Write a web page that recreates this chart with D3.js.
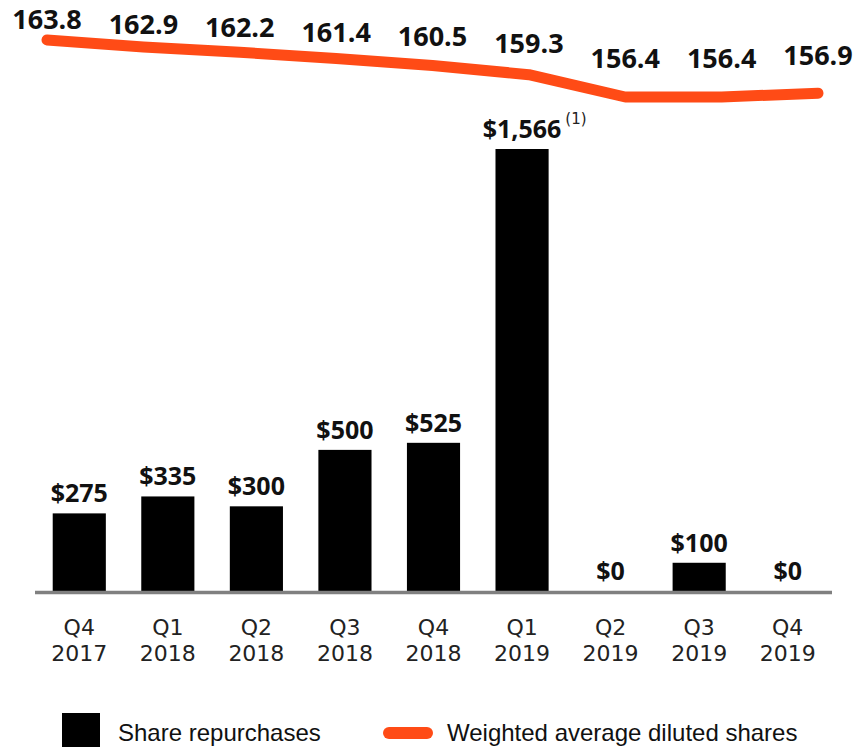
<!DOCTYPE html>
<html>
<head>
<meta charset="utf-8">
<script src="https://cdn.jsdelivr.net/npm/d3@7"></script>
<style>
  body { margin: 0; background: #fff; }
  .bar-label, .line-label { font-family: "Open Sans", "Noto Sans", sans-serif; font-weight: 700; fill: #111; }
  .tick-label { font-family: "DejaVu Sans", "Noto Sans", sans-serif; fill: #222; }
  .legend-label { font-family: "Liberation Sans", Arial, sans-serif; fill: #111; }
</style>
</head>
<body>
<div id="chart"></div>
<script>
// data
var quarters = ["Q4 2017", "Q1 2018", "Q2 2018", "Q3 2018", "Q4 2018", "Q1 2019", "Q2 2019", "Q3 2019", "Q4 2019"];
var repurchases = [275, 335, 300, 500, 525, 1566, 0, 100, 0];
var dilutedShares = [163.8, 162.9, 162.2, 161.4, 160.5, 159.3, 156.4, 156.4, 156.9];
var legendLabels = ["Share repurchases", "Weighted average diluted shares"];

const W = 857, H = 747
const BASE_Y = 591
const ORANGE = "#ff4b16"

var svg = d3.select("#chart").append("svg")
    .attr("width", W)
    .attr("height", H)

// scales
var x = d3.scaleBand()
    .domain(quarters)
    .range([35, 832])
    .paddingInner(0.4)
    .paddingOuter(0.2)

var y = d3.scaleLinear()
    .domain([0, 1566])
    .range([BASE_Y, 149])

// the shares line has its own horizontal spread
var xLine = d3.scalePoint()
    .domain(quarters)
    .range([47, 818])

var yLine = d3.scaleLinear()
    .domain([156.4, 163.8])
    .range([97, 40])

// labels of the line sit on a flatter scale than the line itself
var yLineLabel = d3.scaleLinear()
    .domain([156.4, 163.8])
    .range([68, 29])

// bars
svg.append("g").selectAll("rect")
    .data(quarters)
    .enter().append("rect")
    .attr("x", d => x(d))
    .attr("y", (d, i) => y(repurchases[i]))
    .attr("width", x.bandwidth())
    .attr("height", (d, i) => BASE_Y - y(repurchases[i]))
    .style("fill", "#000")

// bar labels
var barLabels = svg.append("g").selectAll("text")
    .data(quarters)
    .enter().append("text")
    .attr("class", "bar-label")
    .attr("x", d => x(d) + x.bandwidth() / 2)
    .attr("y", (d, i) => y(repurchases[i]) - 11)
    .attr("text-anchor", "middle")
    .style("font-size", "25px")
    .text((d, i) => "$" + d3.format(",")(repurchases[i]))

// footnote marker next to the big bar
var bigIdx = 5
var bigLabel = barLabels.filter((d, i) => i === bigIdx).node()
svg.append("text")
    .attr("class", "tick-label")
    .attr("x", x(quarters[bigIdx]) + x.bandwidth() / 2 + bigLabel.getComputedTextLength() / 2 + 4)
    .attr("y", y(repurchases[bigIdx]) - 25)
    .style("font-size", "15px")
    .text("(1)")

// baseline axis
var xAxis = d3.axisBottom(x).tickSize(0).tickFormat("")
var axisG = svg.append("g")
    .attr("transform", "translate(0," + (BASE_Y + 1.5) + ")")
    .call(xAxis)
axisG.select(".domain")
    .attr("d", "M35,0H832")
    .style("stroke", "#808080")
    .style("stroke-width", 3.5)

// two-line tick labels
var ticks = svg.append("g").selectAll("text")
    .data(quarters)
    .enter().append("text")
    .attr("class", "tick-label")
    .attr("text-anchor", "middle")
    .style("font-size", "22px")
ticks.each(function(d) {
    var parts = d.split(" ")
    var cx = x(d) + x.bandwidth() / 2
    d3.select(this).append("tspan").attr("x", cx).attr("y", 635).text(parts[0])
    d3.select(this).append("tspan").attr("x", cx).attr("y", 661).text(parts[1])
})

// shares line
var line = d3.line()
    .x((d, i) => xLine(quarters[i]))
    .y(d => yLine(d))

svg.append("path")
    .datum(dilutedShares)
    .attr("d", line)
    .style("fill", "none")
    .style("stroke", ORANGE)
    .style("stroke-width", 11)
    .style("stroke-linecap", "round")
    .style("stroke-linejoin", "round")

svg.append("g").selectAll("text")
    .data(dilutedShares)
    .enter().append("text")
    .attr("class", "line-label")
    .attr("x", (d, i) => xLine(quarters[i]))
    .attr("y", d => yLineLabel(d))
    .attr("text-anchor", "middle")
    .style("font-size", "27px")
    .text(d => d3.format(".1f")(d))

// legend
var legend = svg.append("g")
legend.append("rect")
    .attr("x", 62)
    .attr("y", 713)
    .attr("width", 38)
    .attr("height", 34)
    .style("fill", "#000")
legend.append("text")
    .attr("class", "legend-label")
    .attr("x", 118)
    .attr("y", 741)
    .style("font-size", "24px")
    .text(legendLabels[0])
legend.append("line")
    .attr("x1", 389)
    .attr("x2", 427)
    .attr("y1", 733)
    .attr("y2", 733)
    .style("stroke", ORANGE)
    .style("stroke-width", 12)
    .style("stroke-linecap", "round")
legend.append("text")
    .attr("class", "legend-label")
    .attr("x", 447)
    .attr("y", 741)
    .style("font-size", "24px")
    .text(legendLabels[1])
</script>
</body>
</html>
